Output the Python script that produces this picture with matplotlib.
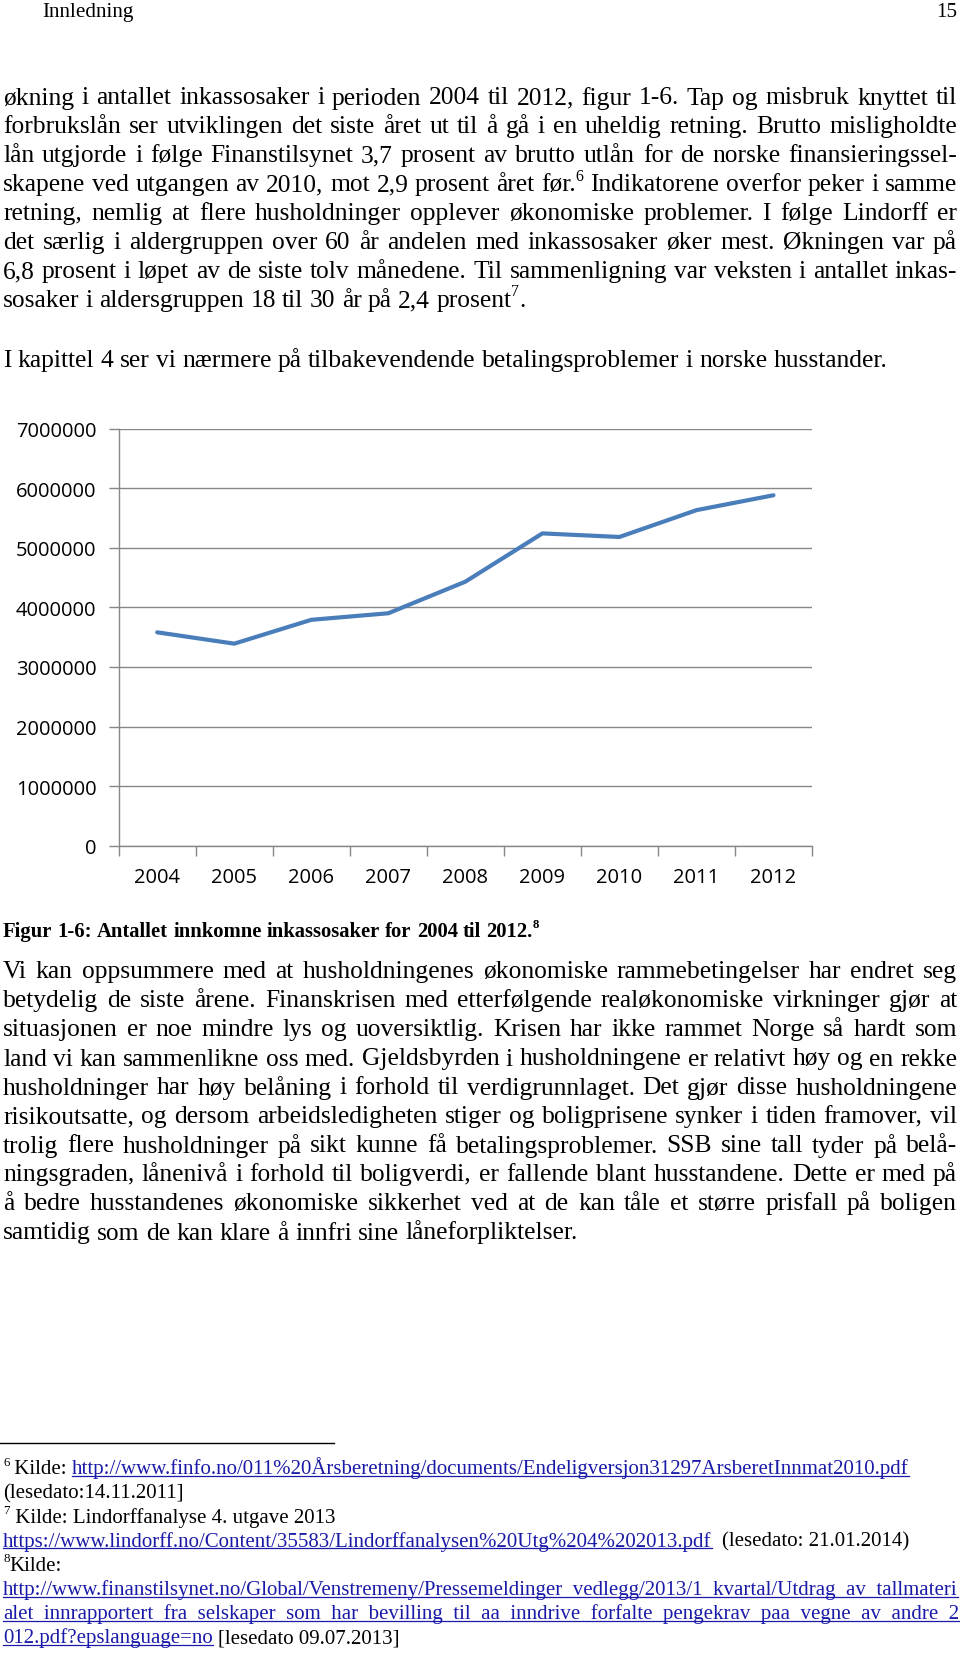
import numpy as np
import matplotlib
matplotlib.use('Agg')
import matplotlib.pyplot as plt
from matplotlib.lines import Line2D

# chart data
years = ['2004', '2005', '2006', '2007', '2008', '2009', '2010', '2011', '2012']
cases = [3580000, 3390000, 3790000, 3900000, 4430000, 5240000, 5180000, 5630000, 5880000]
yticks = [0, 1000000, 2000000, 3000000, 4000000, 5000000, 6000000, 7000000]

# page text
header_left = 'Innledning'
header_right = '15'

para1 = [
    'økning i antallet inkassosaker i perioden 2004 til 2012, figur 1-6. Tap og misbruk knyttet til',
    'forbrukslån ser utviklingen det siste året ut til å gå i en uheldig retning. Brutto misligholdte',
    'lån utgjorde i følge Finanstilsynet 3,7 prosent av brutto utlån for de norske finansieringssel-',
    'skapene ved utgangen av 2010, mot 2,9 prosent året før.^6 Indikatorene overfor peker i samme',
    'retning, nemlig at flere husholdninger opplever økonomiske problemer. I følge Lindorff er',
    'det særlig i aldergruppen over 60 år andelen med inkassosaker øker mest. Økningen var på',
    '6,8 prosent i løpet av de siste tolv månedene. Til sammenligning var veksten i antallet inkas-',
    'sosaker i aldersgruppen 18 til 30 år på 2,4 prosent^7.',
]
para1b = 'I kapittel 4 ser vi nærmere på tilbakevendende betalingsproblemer i norske husstander.'

caption = 'Figur 1-6: Antallet innkomne inkassosaker for 2004 til 2012.^8'

para2 = [
    'Vi kan oppsummere med at husholdningenes økonomiske rammebetingelser har endret seg',
    'betydelig de siste årene. Finanskrisen med etterfølgende realøkonomiske virkninger gjør at',
    'situasjonen er noe mindre lys og uoversiktlig. Krisen har ikke rammet Norge så hardt som',
    'land vi kan sammenlikne oss med. Gjeldsbyrden i husholdningene er relativt høy og en rekke',
    'husholdninger har høy belåning i forhold til verdigrunnlaget. Det gjør disse husholdningene',
    'risikoutsatte, og dersom arbeidsledigheten stiger og boligprisene synker i tiden framover, vil',
    'trolig flere husholdninger på sikt kunne få betalingsproblemer. SSB sine tall tyder på belå-',
    'ningsgraden, lånenivå i forhold til boligverdi, er fallende blant husstandene. Dette er med på',
    'å bedre husstandenes økonomiske sikkerhet ved at de kan tåle et større prisfall på boligen',
    'samtidig som de kan klare å innfri sine låneforpliktelser.',
]

# footnotes: list of (text, is_link) segments per line
footnotes = [
    [('^6 Kilde:', False), ('http://www.finfo.no/011%20Årsberetning/documents/Endeligversjon31297ArsberetInnmat2010.pdf', True)],
    [('(lesedato:14.11.2011]', False)],
    [('^7 Kilde: Lindorffanalyse 4. utgave 2013', False)],
    [('https://www.lindorff.no/Content/35583/Lindorffanalysen%20Utg%204%202013.pdf', True), (' (lesedato: 21.01.2014)', False)],
    [('^8Kilde:', False)],
    [('http://www.finanstilsynet.no/Global/Venstremeny/Pressemeldinger_vedlegg/2013/1_kvartal/Utdrag_av_tallmateri', True)],
    [('alet_innrapportert_fra_selskaper_som_har_bevilling_til_aa_inndrive_forfalte_pengekrav_paa_vegne_av_andre_2', True)],
    [('012.pdf?epslanguage=no', True), ('[lesedato 09.07.2013]', False)],
]

W, H = 960, 1656
SERIF = 'Liberation Serif'
CHART_FONT = ['Open Sans', 'DejaVu Sans']
LINK = '#1a1aa8'

fig = plt.figure(figsize=(9.6, 16.56), dpi=100)
fig.patch.set_facecolor('white')
renderer = fig.canvas.get_renderer()


def fx(x):
    return x / W


def fy(y):
    return 1 - y / H


def width_of(s, size, weight='normal'):
    t = fig.text(0, 0, s, fontsize=size, family=SERIF, weight=weight)
    w = t.get_window_extent(renderer).width
    t.remove()
    return w


def fit_size(s, target, weight='normal'):
    return 20 * target / width_of(s, 20, weight)


def split_tok(tok):
    out = []
    while '^' in tok:
        a, b = tok.split('^', 1)
        if a:
            out.append((a, False))
        out.append((b[0], True))
        tok = b[1:]
    if tok:
        out.append((tok, False))
    return out


def tok_width(tok, size, weight='normal'):
    return sum(width_of(p, size * 0.62 if sup else size, weight) for p, sup in split_tok(tok))


def draw_tok(x, y, tok, size, weight='normal', color='black', underline=False):
    for p, sup in split_tok(tok):
        s = size * 0.62 if sup else size
        yy = y - size * 0.42 * 100 / 72 if sup else y
        t = fig.text(fx(x), fy(yy), p, fontsize=s, family=SERIF, weight=weight,
                     color=color, va='baseline', ha='left')
        w = t.get_window_extent(renderer).width
        if underline:
            fig.add_artist(Line2D([fx(x), fx(x + w)], [fy(y + 2.5)] * 2, color=color, lw=0.9))
        x += w
    return x


def put_line(y, line, size, justify=True, x0=3, x1=957, weight='normal'):
    toks = line.split(' ')
    ws = [tok_width(t, size, weight) for t in toks]
    if justify and len(toks) > 1:
        gap = (x1 - x0 - sum(ws)) / (len(toks) - 1)
    else:
        gap = width_of('a a', size, weight) - width_of('aa', size, weight)
    x = x0
    for t, w in zip(toks, ws):
        draw_tok(x, y, t, size, weight)
        x += w + gap


# font sizes calibrated from measured widths on the page
body = fit_size(para1b, 886)
small = fit_size('6 Kilde: ' + footnotes[0][1][0], 908)
capsize = fit_size(caption.replace('^8', ''), 528, 'bold')
headsize = fit_size(header_left, 91)

# header
draw_tok(42, 17, header_left, headsize)
fig.text(fx(957), fy(17), header_right, fontsize=headsize, family=SERIF, ha='right', va='baseline')

# paragraph 1
for i, line in enumerate(para1):
    put_line(104.5 + 28.95 * i, line, body, justify=(i < len(para1) - 1))
put_line(367, para1b, body, justify=False)

# chart
ax = fig.add_axes([fx(118.7), fy(846.7), 693.3 / W, (846.7 - 429.5) / H])
xs = np.arange(len(years))
ax.plot(xs, cases, color='#4a7ebb', lw=3, solid_capstyle='round', solid_joinstyle='round')
ax.set_xlim(-0.5, len(years) - 0.5)
ax.set_ylim(0, 7000000)
ax.set_yticks(yticks)
ax.set_yticklabels([str(v) for v in yticks], family=CHART_FONT, fontsize=14.5)
ax.yaxis.grid(True, color='#878787', lw=1)
ax.set_axisbelow(True)
ax.set_xticks(np.arange(-0.5, len(years), 1))
ax.set_xticklabels([])
ax.set_xticks(xs, minor=True)
ax.set_xticklabels(years, minor=True, family=CHART_FONT, fontsize=14.5)
ax.tick_params(axis='x', which='major', length=7, color='#878787', width=1)
ax.tick_params(axis='x', which='minor', length=0, pad=15)
ax.tick_params(axis='y', length=7, color='#878787', width=1, pad=9)
for s in ['top', 'right']:
    ax.spines[s].set_visible(False)
for s in ['left', 'bottom']:
    ax.spines[s].set_color('#878787')
    ax.spines[s].set_linewidth(1)

# caption
put_line(937, caption, capsize, justify=False, weight='bold')

# paragraph 2
for i, line in enumerate(para2):
    put_line(978.5 + 29.0 * i, line, body, justify=(i < len(para2) - 1))

# footnote rule
fig.add_artist(Line2D([fx(0), fx(334)], [fy(1444)] * 2, color='black', lw=1))

# footnotes
sp = width_of('a a', small) - width_of('aa', small)
for i, segs in enumerate(footnotes):
    y = 1474.5 + 24.1 * i
    x = 3
    for j, (txt, link) in enumerate(segs):
        if txt.startswith(' '):
            x += sp
            txt = txt[1:]
        x = draw_tok(x, y, txt, small, color=LINK if link else 'black', underline=link)
        x += sp

fig.savefig('out.png', dpi=100)
